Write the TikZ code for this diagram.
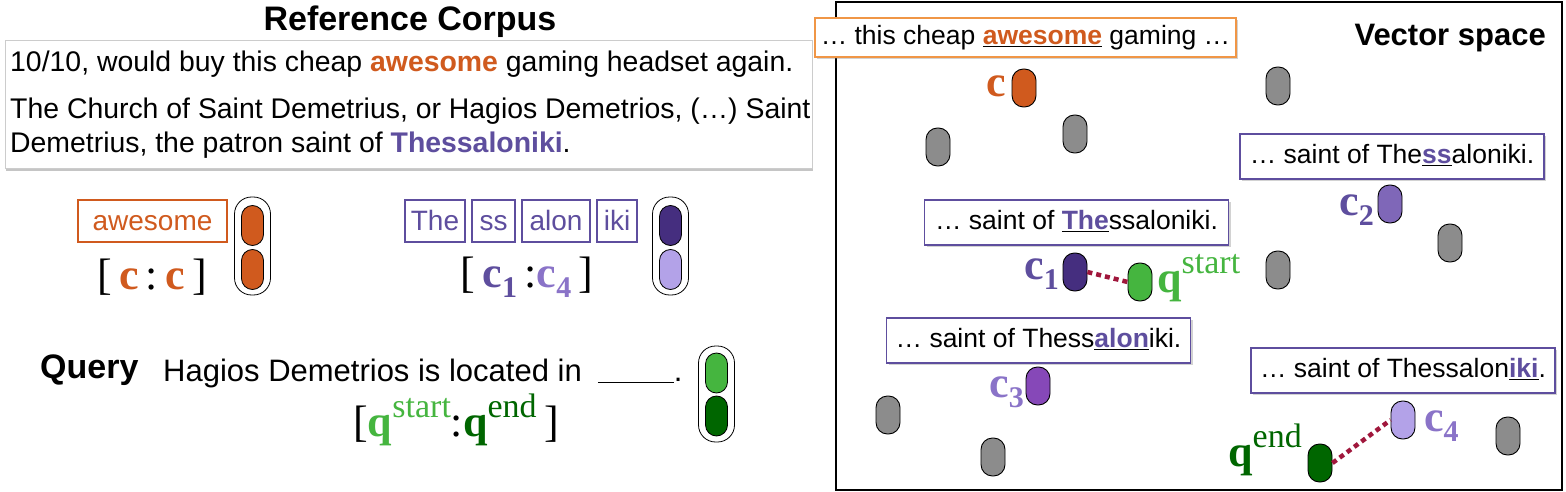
\documentclass[tikz,border=0pt]{standalone}
\usepackage{fontspec}
\setmainfont{Liberation Sans}
\newfontfamily\tms{Liberation Serif}
\usetikzlibrary{shadows}
\definecolor{corange}{RGB}{208,90,30}
\definecolor{borange}{RGB}{240,150,70}
\definecolor{cpurple}{RGB}{94,78,158}
\definecolor{lpurple}{RGB}{138,115,200}
\definecolor{dpurple}{RGB}{69,46,127}
\definecolor{mpurple}{RGB}{127,103,184}
\definecolor{vpurple}{RGB}{134,72,184}
\definecolor{lavender}{RGB}{179,162,232}
\definecolor{lgreen}{RGB}{69,181,63}
\definecolor{dgreen}{RGB}{0,102,0}
\definecolor{pgray}{RGB}{140,140,140}
\definecolor{dred}{RGB}{160,23,60}
\newcommand\subl[1]{\raisebox{-0.22em}{\fontsize{30}{30}\selectfont #1}}
\newcommand\supl[1]{\raisebox{0.42em}{\fontsize{34}{34}\selectfont\mdseries #1}}
\begin{document}
\begin{tikzpicture}[x=1pt,y=-1pt,
  pill/.style={draw=black, line width=0.9pt, rounded corners=11.5pt, minimum width=24pt, minimum height=38pt, inner sep=0pt},
  ipill/.style={draw=black, line width=0.8pt, rounded corners=11pt, minimum width=22pt, minimum height=40pt, inner sep=0pt},
  holder/.style={draw=black, line width=0.8pt, rounded corners=17pt, minimum width=36pt, minimum height=98pt, inner sep=0pt},
  ctxbox/.style={draw=cpurple, line width=1.3pt, fill=white, minimum width=304pt, minimum height=45pt, inner sep=0pt,
     text height=19pt, text depth=5pt,
     drop shadow={opacity=0.35, shadow xshift=2pt, shadow yshift=-2pt}, font=\fontsize{26.5}{30}\selectfont},
  tokbox/.style={draw=cpurple, line width=1.5pt, minimum height=42pt, inner sep=0pt, text=cpurple,
     text height=22pt, text depth=4pt, font=\fontsize{28}{32}\selectfont},
  lbl/.style={inner sep=0pt, font=\tms\bfseries\fontsize{44}{44}\selectfont},
  body/.style={inner sep=0pt, font=\fontsize{28.4}{32}\selectfont},
  head/.style={inner sep=0pt, font=\bfseries\fontsize{34}{36}\selectfont},
  link/.style={draw=dred, line width=4.5pt, dash pattern=on 5pt off 4pt}
]
\useasboundingbox (0,0) rectangle (1566,492);
\fill[white] (0,0) rectangle (1566,492);

% ---------- Reference corpus ----------
\node[head] (title) at (410,22) {Reference Corpus};
\node[draw=black!20, line width=0.5pt, fill=white, minimum width=807pt, minimum height=128pt, inner sep=0pt,
  drop shadow={opacity=0.45, shadow xshift=1pt, shadow yshift=-3pt}] (corpus) at (408.5,104) {};
\node[body, anchor=base west] (l1) at (10,72) {10/10, would buy this cheap \textbf{\color{corange}awesome} gaming headset again.};
\node[body, anchor=base west] (l2) at (10,119) {The Church of Saint Demetrius, or Hagios Demetrios, (…) Saint};
\node[body, anchor=base west] (l3) at (10,153) {Demetrius, the patron saint of \textbf{\color{cpurple}Thessaloniki}.};

% awesome token
\node[tokbox, draw=corange, text=corange, minimum width=149pt] (aw) at (152.5,221) {awesome};
\node[holder] (ha) at (252.5,246) {};
\node[ipill, fill=corange] (ha1) at (252.5,225.5) {};
\node[ipill, fill=corange] (ha2) at (252.5,269.5) {};
\node[lbl] (cc) at (152,277) {\mdseries[\,\textbf{\color{corange}c}\,:\,\textbf{\color{corange}c}\,]};

% Thessaloniki tokens
\node[tokbox, minimum width=60pt] (t1) at (435,221) {The};
\node[tokbox, minimum width=43pt] (t2) at (493.5,221) {ss};
\node[tokbox, minimum width=68pt] (t3) at (556,221) {alon};
\node[tokbox, minimum width=40pt] (t4) at (617,221) {iki};
\node[holder] (hb) at (670.5,246) {};
\node[ipill, fill=dpurple] (hb1) at (670.5,225.5) {};
\node[ipill, fill=lavender] (hb2) at (670.5,269.5) {};
\node[lbl] (c14) at (527,277) {\mdseries[\,\textbf{\color{cpurple}c\subl{1}}\,:\textbf{\color{lpurple}c\subl{4}}\,]};

% Query
\node[head, anchor=west] (query) at (40,370) {Query};
\node[inner sep=0pt, anchor=west, font=\fontsize{31}{34}\selectfont] (qtext) at (163,373)
  {Hagios Demetrios is located in\hspace{16pt}\rule[-2pt]{76pt}{1.5pt}.};
\node[holder, minimum height=96pt] (hq) at (716.5,394) {};
\node[ipill, fill=lgreen] (hq1) at (716.5,373) {};
\node[ipill, fill=dgreen] (hq2) at (716.5,416) {};
\node[lbl] (qq) at (456,420) {\mdseries[\textbf{\color{lgreen}q\supl{start}}:\textbf{\color{dgreen}q\supl{end}}\,]};

% ---------- Vector space ----------
\node[draw=black, line width=1.5pt, minimum width=726pt, minimum height=488pt, inner sep=0pt] (vs) at (1199,246) {};
\node[inner sep=0pt, anchor=east, font=\bfseries\fontsize{31}{34}\selectfont] (vtitle) at (1546,38) {Vector space};
\node[ctxbox, draw=borange, minimum width=421pt, minimum height=39pt] (ctxa) at (1025.5,37.5)
  {… this cheap \underline{\textbf{\color{corange}awesome}} gaming …};

\node[ctxbox] (ctx2) at (1392,156.5) {… saint of The\underline{\textbf{\color{cpurple}ss}}aloniki.};
\node[ctxbox] (ctx1) at (1076.5,222.5) {… saint of \underline{\textbf{\color{cpurple}The}}ssaloniki.};
\node[ctxbox] (ctx3) at (1038.5,340.5) {… saint of Thess\underline{\textbf{\color{cpurple}alon}}iki.};
\node[ctxbox] (ctx4) at (1403,370.5) {… saint of Thessalon\underline{\textbf{\color{cpurple}iki}}.};

% gray points
\node[pill, fill=pgray] (g1) at (1278,86) {};
\node[pill, fill=pgray] (g2) at (938,147) {};
\node[pill, fill=pgray] (g3) at (1075,134) {};
\node[pill, fill=pgray] (g4) at (1450,243) {};
\node[pill, fill=pgray] (g5) at (1278,270) {};
\node[pill, fill=pgray] (g6) at (888,415) {};
\node[pill, fill=pgray] (g7) at (993,457) {};
\node[pill, fill=pgray] (g8) at (1508,436) {};

% coloured points
\node[pill, fill=corange] (pc) at (1024,88) {};
\node[pill, fill=mpurple] (pc2) at (1390,204) {};
\node[pill, fill=dpurple] (pc1) at (1075,272) {};
\node[pill, fill=lgreen] (pqs) at (1140,282) {};
\node[pill, fill=vpurple] (pc3) at (1038,386) {};
\node[pill, fill=lavender] (pc4) at (1403,420) {};
\node[pill, fill=dgreen] (pqe) at (1320,463) {};

% labels
\node[lbl, anchor=east, text=corange] (lc) at (1006,86) {c};
\node[lbl, anchor=east, text=cpurple] (lc2) at (1374,210) {c\subl{2}};
\node[lbl, anchor=east, text=cpurple] (lc1) at (1059,274) {c\subl{1}};
\node[lbl, anchor=west, text=lgreen] (lqs) at (1157,278) {q\supl{start}};
\node[lbl, anchor=east, text=lpurple] (lc3) at (1024,392) {c\subl{3}};
\node[lbl, anchor=east, text=dgreen] (lqe) at (1302,450) {q\supl{end}};
\node[lbl, anchor=west, text=lpurple] (lc4) at (1424,426) {c\subl{4}};

% links
\draw[link] (pc1.east) -- (pqs.west);
\draw[link] (pqe.east) -- (pc4.west);
\end{tikzpicture}
\end{document}
